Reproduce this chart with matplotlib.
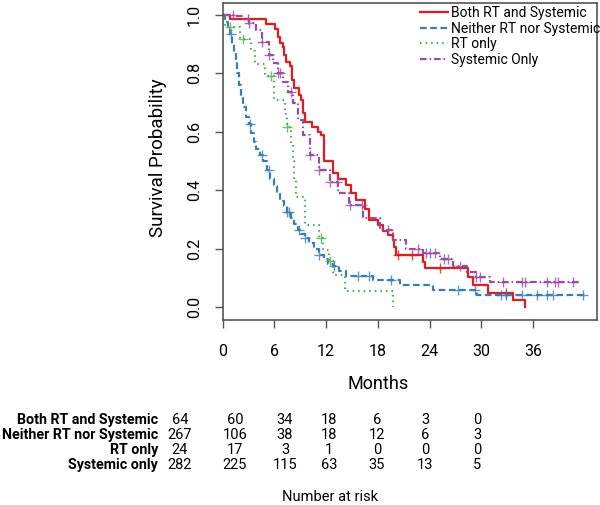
import numpy as np
from matplotlib import pyplot as plt

# Kaplan-Meier curves (months, survival)
t_both = [0, 0.8, 5.0, 6.1, 6.4, 6.6, 7.0, 7.1, 7.35, 7.75, 8.05, 8.3, 8.8, 9.1, 9.3, 9.5,
          10.3, 11.0, 11.4, 11.8, 12.8, 13.4, 14.3, 14.9, 15.4, 16.5, 17.0, 18.0, 18.6, 19.2,
          19.7, 19.9, 20.1, 23.2, 23.5, 28.4, 29.0, 30.8, 33.7, 35.0]
s_both = [1.0, 0.984, 0.968, 0.95, 0.925, 0.905, 0.89, 0.862, 0.839, 0.825, 0.777, 0.748,
          0.725, 0.708, 0.663, 0.634, 0.617, 0.6, 0.589, 0.50, 0.458, 0.44, 0.418, 0.39, 0.367,
          0.335, 0.3, 0.281, 0.262, 0.247, 0.23, 0.207, 0.179, 0.156, 0.133, 0.105, 0.076,
          0.048, 0.025, 0.0]
c_both = [2.9, 20.3, 21.9, 25.2, 32.9]

t_neither = [0, 0.3, 0.6, 0.9, 1.1, 1.3, 1.5, 1.7, 1.9, 2.1, 2.4, 2.7, 3.0, 3.3, 3.6, 3.9,
             4.3, 4.7, 5.1, 5.5, 5.9, 6.3, 6.7, 7.1, 7.5, 7.9, 8.3, 8.7, 9.1, 9.5, 10.0, 10.6,
             11.2, 11.7, 12.2, 12.8, 13.5, 14.3, 17.4, 20.5, 24.4, 29.5]
s_neither = [1.0, 0.975, 0.955, 0.935, 0.90, 0.87, 0.84, 0.80, 0.76, 0.72, 0.685, 0.651,
             0.625, 0.595, 0.565, 0.54, 0.52, 0.50, 0.47, 0.44, 0.415, 0.39, 0.365, 0.345,
             0.325, 0.305, 0.285, 0.265, 0.25, 0.236, 0.22, 0.20, 0.18, 0.165, 0.15, 0.14,
             0.125, 0.107, 0.093, 0.076, 0.059, 0.042]
c_neither = [1.0, 3.2, 4.5, 5.4, 7.5, 7.7, 8.9, 9.5, 11.2, 12.9, 15.7, 17.0, 19.5, 27.3,
             29.2, 32.3, 32.9, 34.7, 36.4, 37.6, 38.3, 41.8]

t_rt = [0, 0.3, 2.0, 3.3, 3.7, 4.9, 6.0, 7.2, 7.5, 7.9, 8.1, 8.3, 8.5, 9.6, 11.2, 11.6,
        12.3, 12.8, 14.2, 19.7]
s_rt = [1.0, 0.958, 0.917, 0.875, 0.833, 0.792, 0.708, 0.66, 0.617, 0.56, 0.50, 0.44, 0.377,
        0.283, 0.236, 0.196, 0.157, 0.11, 0.057, 0.0]
c_rt = [0.8, 2.3, 5.6, 7.5, 11.4, 12.4]

t_sys = [0, 1.5, 2.3, 3.1, 3.9, 4.6, 5.4, 5.8, 6.4, 7.0, 7.6, 8.1, 8.7, 9.3, 10.1, 11.2,
         12.4, 13.4, 14.7, 16.3, 18.2, 19.7, 21.3, 23.2, 25.2, 26.7, 28.3, 29.4, 31.0]
s_sys = [1.0, 0.995, 0.987, 0.97, 0.948, 0.908, 0.862, 0.834, 0.8, 0.771, 0.737, 0.70, 0.64,
         0.59, 0.52, 0.469, 0.429, 0.39, 0.35, 0.304, 0.264, 0.23, 0.2, 0.185, 0.165, 0.14,
         0.12, 0.105, 0.0875]
c_sys = [1.2, 3.1, 4.6, 5.4, 6.4, 6.6, 7.9, 10.1, 11.2, 12.4, 13.3, 14.8, 16.1, 19.2, 22.6,
         23.6, 24.0, 24.6, 25.7, 26.1, 27.5, 29.4, 29.8, 32.5, 34.7, 35.0, 37.6, 38.5, 38.9,
         40.6]

end_times = [35.0, 42.2, 19.7, 41.4]

groups = ["Both RT and Systemic", "Neither RT nor Systemic", "RT only", "Systemic Only"]
risk_labels = ["Both RT and Systemic", "Neither RT nor Systemic", "RT only", "Systemic only"]
risk_counts = [[64, 60, 34, 18, 6, 3, 0],
               [267, 106, 38, 18, 12, 6, 3],
               [24, 17, 3, 1, 0, 0, 0],
               [282, 225, 115, 63, 35, 13, 5]]
x_ticks = [0, 6, 12, 18, 24, 30, 36]
y_ticks = [0.0, 0.2, 0.4, 0.6, 0.8, 1.0]

colors = ["#e41a1c", "#377eb8", "#4daf4a", "#984ea3"]
styles = ["-", (0, (3, 1.6)), (0, (0.7, 1.8)), (0, (3, 1.3, 0.7, 1.3))]

plt.rcParams['font.family'] = ["Roboto", "DejaVu Sans"]

W, H = 600, 505


def px(x, y):
    return x / W, 1 - y / H


fig = plt.figure(figsize=(6, 5.05), dpi=100)
ax = fig.add_axes([222.7 / W, 1 - 320 / H, (597 - 222.7) / W, (320 - 3) / H])

curves = [(t_both, s_both, c_both), (t_neither, s_neither, c_neither),
          (t_rt, s_rt, c_rt), (t_sys, s_sys, c_sys)]

for (t, s, cens), end, col, ls, lab in zip(curves, end_times, colors, styles, groups):
    t = np.array(t + [end])
    s = np.array(s + [s[-1]])
    ax.step(t, s, where='post', color=col, linestyle=ls, lw=1.6, label=lab)
    idx = np.searchsorted(t, cens, side='right') - 1
    ax.plot(cens, s[idx], '+', color=col, ms=7, mew=1.0, alpha=0.8)

ax.set_xlim(0, 43.4)
ax.set_ylim(-0.043, 1.04)
ax.set_xticks(x_ticks)
ax.set_yticks(y_ticks)
ax.set_yticklabels(["%.1f" % v for v in y_ticks], rotation=90, va='center')
ax.tick_params(length=6, width=1, color="#555555", labelsize=11.5, pad=9)
ax.tick_params(axis='x', pad=11)
for sp in ax.spines.values():
    sp.set_color("#555555")
    sp.set_linewidth(1.2)

fig.text(*px(158, 158), "Survival Probability", rotation=90, ha='center', va='center', fontsize=13.5)
fig.text(*px(378, 384), "Months", ha='center', va='center', fontsize=13)

ax.legend(loc='upper left', bbox_to_anchor=px(420, 6), bbox_transform=fig.transFigure,
          frameon=False, fontsize=10, handlelength=2.0, handletextpad=0.25,
          labelspacing=0.12, borderpad=0, borderaxespad=0)

# number at risk table
row_y = [420, 435, 450, 465]
col_x = [180, 235, 285, 329, 377, 425, 477]
for lab, counts, y in zip(risk_labels, risk_counts, row_y):
    fig.text(*px(158, y), lab, ha='right', va='center', fontsize=10.3, fontweight='bold')
    for n, x in zip(counts, col_x):
        fig.text(*px(x, y), str(n), ha='center', va='center', fontsize=10.5)
fig.text(*px(330, 497), "Number at risk", ha='center', va='center', fontsize=10.5)

fig.savefig("out.png", dpi=100)
